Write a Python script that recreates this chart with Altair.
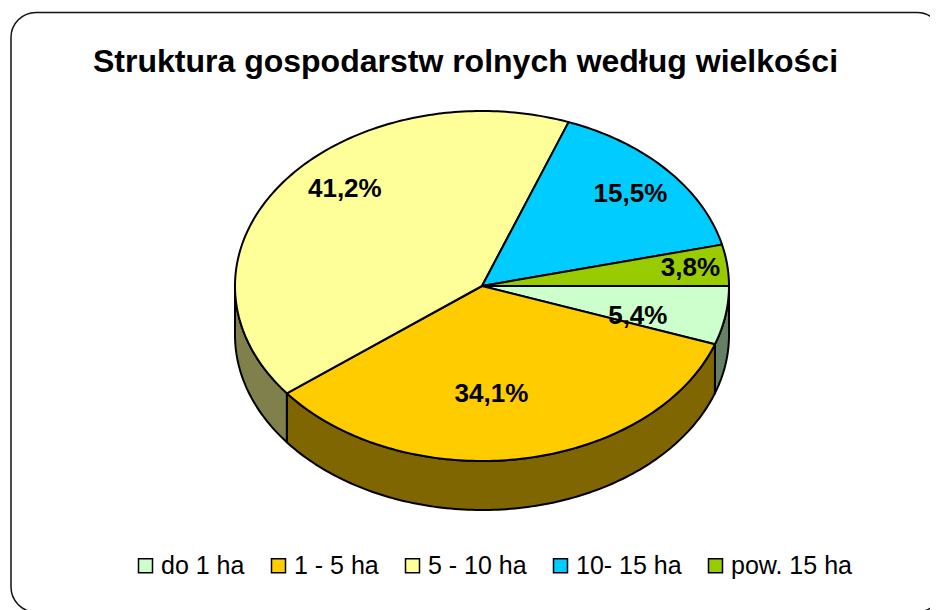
import math
import altair as alt
import pandas as pd

# --- data
categories = ["do 1 ha", "1 - 5 ha", "5 - 10 ha", "10- 15 ha", "pow. 15 ha"]
shares = [5.4, 34.1, 41.2, 15.5, 3.8]
labels = ["5,4%", "34,1%", "41,2%", "15,5%", "3,8%"]
top_colors = ["#CCFFCC", "#FFCC00", "#FFFF99", "#00CCFF", "#99CC00"]
wall_colors = ["#668066", "#806600", "#80804D", "#006680", "#4D6600"]

# --- layout
W, H = 922, 604
CX, CY, RX, RY, DEPTH = 474, 278, 247, 175, 49
label_radius = [0.64, 0.62, 0.75, 0.76, 0.85]
label_nudge_x = [0, -15, 12, 8, 0]
label_nudge_y = [11, 1, -19, -4, 0]


def pt(deg, drop=0.0):
    a = math.radians(deg)
    return CX + RX * math.cos(a), CY + RY * math.sin(a) + drop


def arc(a0, a1):
    n = max(2, int(abs(a1 - a0)) + 2)
    return [a0 + (a1 - a0) * k / (n - 1) for k in range(n)]


top_rows, wall_rows, label_rows = [], [], []
start = 0.0
for idx, (cat, share) in enumerate(zip(categories, shares)):
    end = start + share * 3.6
    poly = [(CX, CY)] + [pt(a) for a in arc(start, end)] + [(CX, CY)]
    for i, (x, y) in enumerate(poly):
        top_rows.append({"cat": cat, "slice": idx, "i": i, "x": x, "y": y})
    lo, hi = max(start, 0.0), min(end, 180.0)
    if lo < hi:
        angs = arc(lo, hi)
        ring = [pt(a) for a in angs] + [pt(a, DEPTH) for a in reversed(angs)]
        ring.append(ring[0])
        for i, (x, y) in enumerate(ring):
            wall_rows.append({"wall": wall_colors[idx], "slice": idx, "i": i, "x": x, "y": y})
    mid = math.radians((start + end) / 2)
    r = label_radius[idx]
    label_rows.append({
        "text": labels[idx],
        "x": CX + RX * r * math.cos(mid) + label_nudge_x[idx],
        "y": CY + RY * r * math.sin(mid) + label_nudge_y[idx],
    })
    start = end

xs = alt.Scale(domain=[0, W], nice=False, zero=False)
ys = alt.Scale(domain=[H, 0], nice=False, zero=False)
X = alt.X("x:Q", scale=xs, axis=None)
Y = alt.Y("y:Q", scale=ys, axis=None)

frame = alt.Chart(pd.DataFrame({"a": [0]})).mark_rect(
    cornerRadius=25, fill="white", stroke="#111111", strokeWidth=1.5
).encode(x=alt.value(3), x2=alt.value(934), y=alt.value(4.5), y2=alt.value(604))

walls = alt.Chart(pd.DataFrame(wall_rows)).mark_line(
    filled=True, stroke="black", strokeWidth=2, strokeJoin="round"
).encode(
    x=X, y=Y, order="i:Q", detail="slice:N",
    color=alt.Color("wall:N", scale=None, legend=None),
)

tops = alt.Chart(pd.DataFrame(top_rows)).mark_line(
    filled=True, stroke="black", strokeWidth=2, strokeJoin="round"
).encode(
    x=X, y=Y, order="i:Q", detail="slice:N",
    color=alt.Color(
        "cat:N",
        scale=alt.Scale(domain=categories, range=top_colors),
        sort=categories,
        legend=alt.Legend(
            title=None, orient="none", legendX=125, legendY=545, direction="horizontal",
            columns=5, symbolType="square", symbolSize=196, symbolStrokeColor="black",
            symbolStrokeWidth=1.5, symbolOpacity=1, labelFont="Liberation Sans",
            labelFontSize=25, labelColor="black", labelOffset=3, columnPadding=21,
            labelLimit=200,
        ),
    ),
)

text = alt.Chart(pd.DataFrame(label_rows)).mark_text(
    font="Liberation Sans", fontWeight="bold", fontSize=26, color="black"
).encode(x=X, y=Y, text="text:N")

chart = alt.layer(frame, walls, tops, text).resolve_scale(color="independent").properties(
    width=W, height=H, padding=0,
    autosize=alt.AutoSizeParams(type="none"),
    background="white",
    title=alt.TitleParams(
        "Struktura gospodarstw rolnych według wielkości",
        font="Liberation Sans", fontSize=32, fontWeight="bold", color="black",
        anchor="start", frame="group", dx=85, offset=-71,
    ),
).configure_view(stroke=None)

chart.save("out.html", embed_options={"renderer": "svg", "actions": False})
